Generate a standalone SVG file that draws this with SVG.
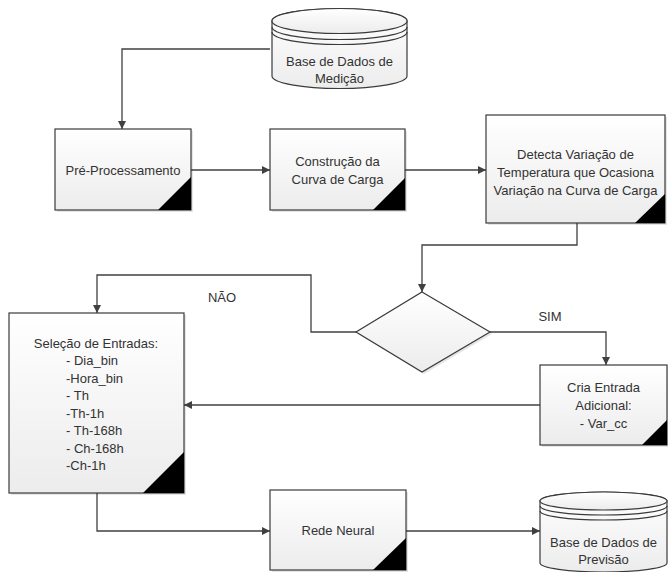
<svg xmlns="http://www.w3.org/2000/svg" width="668" height="572" viewBox="0 0 668 572">
<defs>
<linearGradient id="g" x1="0" y1="0" x2="0" y2="1">
<stop offset="0" stop-color="#ffffff"/>
<stop offset="1" stop-color="#ececec"/>
</linearGradient>
<marker id="ah" viewBox="0 0 10 10" refX="10" refY="5" markerWidth="9" markerHeight="8" markerUnits="userSpaceOnUse" orient="auto">
<path d="M0,0 L10,5 L0,10 Z" fill="#404040"/>
</marker>
<style>
.box{fill:url(#g);stroke:#3a3a3a;stroke-width:1.2}
.sh{fill:#000;opacity:0.10}
.tri{fill:#000}
.t{font-family:"Liberation Sans",Arial,sans-serif;font-size:13px;fill:#333;text-anchor:middle}
.tl{font-family:"Liberation Sans",Arial,sans-serif;font-size:13px;fill:#333;text-anchor:start}
.c{fill:none;stroke:#404040;stroke-width:1.3}
.ca{fill:none;stroke:#404040;stroke-width:1.3;marker-end:url(#ah)}
.db{fill:url(#g);stroke:#3a3a3a;stroke-width:1.2}
.dbl{fill:none;stroke:#3a3a3a;stroke-width:1.2}
</style>
</defs>
<rect width="668" height="572" fill="#ffffff"/>

<g id="connectors">
<path class="ca" d="M270,49 H122 V129"/>
<path class="ca" d="M191,170 H270"/>
<path class="ca" d="M405,170 H486"/>
<path class="ca" d="M577,223 V245 H422 V292"/>
<path class="ca" d="M356,332 H311 V275 H97 V313"/>
<path class="ca" d="M490,332 H606 V365"/>
<path class="ca" d="M540,405 H184"/>
<path class="ca" d="M97,493 V531 H270"/>
<path class="ca" d="M406,531 H540"/>
</g>

<g id="db_medicao">
<path class="db" d="M272,21 A67.5,12.5 0 0 1 407,21 V76 A67.5,12.5 0 0 1 272,76 Z"/>
<ellipse class="db" cx="339.5" cy="21" rx="67.5" ry="12.5"/>
<path class="dbl" d="M272,27 A67.5,12.5 0 0 0 407,27"/>
<path class="dbl" d="M272,32 A67.5,12.5 0 0 0 407,32"/>
<text class="t" x="339.5" y="66">Base de Dados de</text>
<text class="t" x="339.5" y="83">Medição</text>
</g>

<g id="pre">
<rect class="sh" x="57" y="131" width="136" height="81"/>
<rect class="box" x="55" y="129" width="136" height="81"/>
<polygon class="tri" points="158,210 191,177 191,210"/>
<text class="t" x="123" y="174.5">Pré-Processamento</text>
</g>

<g id="construcao">
<rect class="sh" x="272" y="131" width="135" height="81"/>
<rect class="box" x="270" y="129" width="135" height="81"/>
<polygon class="tri" points="373,210 405,178 405,210"/>
<text class="t" x="337.5" y="165.5">Construção da</text>
<text class="t" x="337.5" y="183.5">Curva de Carga</text>
</g>

<g id="detecta">
<rect class="sh" x="488" y="117" width="179" height="108"/>
<rect class="box" x="486" y="115" width="179" height="108"/>
<polygon class="tri" points="635,223 665,194 665,223"/>
<text class="t" x="575.5" y="158.5">Detecta Variação de</text>
<text class="t" x="575.5" y="176.5">Temperatura que Ocasiona</text>
<text class="t" x="575.5" y="194.5">Variação na Curva de Carga</text>
</g>

<g id="decisao">
<polygon class="sh" points="424,294 492,334 424,374 358,334"/>
<polygon class="box" points="422,292 490,332 422,372 356,332"/>
</g>

<g id="labels">
<text class="t" x="222" y="301.5">NÃO</text>
<text class="t" x="550" y="320.5">SIM</text>
</g>

<g id="selecao">
<rect class="sh" x="11" y="315" width="175" height="180"/>
<rect class="box" x="9" y="313" width="175" height="180"/>
<polygon class="tri" points="143,493 184,452 184,493"/>
<text class="t" x="96" y="347.5">Seleção de Entradas:</text>
<text class="tl" x="66" y="365">- Dia_bin</text>
<text class="tl" x="66" y="382.5">-Hora_bin</text>
<text class="tl" x="66" y="400">- Th</text>
<text class="tl" x="66" y="417.5">-Th-1h</text>
<text class="tl" x="66" y="435">- Th-168h</text>
<text class="tl" x="66" y="452.5">- Ch-168h</text>
<text class="tl" x="66" y="470">-Ch-1h</text>
</g>

<g id="cria">
<rect class="sh" x="542" y="367" width="127" height="80"/>
<rect class="box" x="540" y="365" width="127" height="80"/>
<polygon class="tri" points="642,445 667,420 667,445"/>
<text class="t" x="603.5" y="391.5">Cria Entrada</text>
<text class="t" x="603.5" y="409.5">Adicional:</text>
<text class="t" x="603.5" y="427.5">- Var_cc</text>
</g>

<g id="rede">
<rect class="sh" x="272" y="492" width="136" height="80"/>
<rect class="box" x="270" y="490" width="136" height="80"/>
<polygon class="tri" points="373,570 406,538 406,570"/>
<text class="t" x="338" y="535">Rede Neural</text>
</g>

<g id="db_previsao">
<path class="db" d="M540,501 A63.5,9 0 0 1 667,501 V563 A63.5,9 0 0 1 540,563 Z"/>
<ellipse class="db" cx="603.5" cy="501" rx="63.5" ry="9"/>
<path class="dbl" d="M540,506 A63.5,9 0 0 0 667,506"/>
<path class="dbl" d="M540,511 A63.5,9 0 0 0 667,511"/>
<text class="t" x="603.5" y="546.5">Base de Dados de</text>
<text class="t" x="603.5" y="563.5">Previsão</text>
</g>
</svg>
